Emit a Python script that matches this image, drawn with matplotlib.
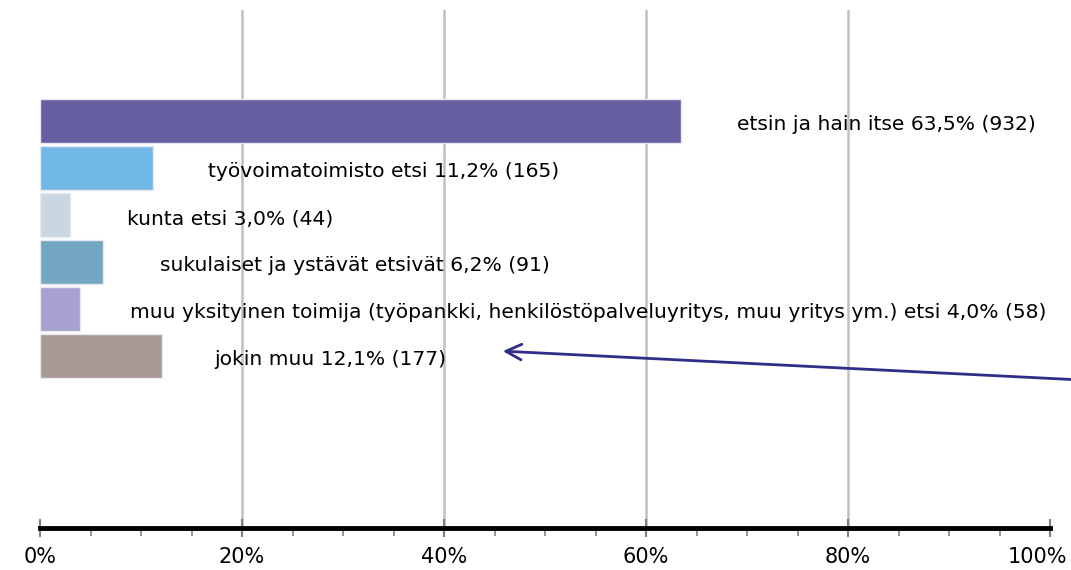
import matplotlib.pyplot as plt
from matplotlib.ticker import MultipleLocator

labels = ['etsin ja hain itse 63,5% (932)',
          'työvoimatoimisto etsi 11,2% (165)',
          'kunta etsi 3,0% (44)',
          'sukulaiset ja ystävät etsivät 6,2% (91)',
          'muu yksityinen toimija (työpankki, henkilöstöpalveluyritys, muu yritys ym.) etsi 4,0% (58)',
          'jokin muu 12,1% (177)']
values = [63.5, 11.2, 3.0, 6.2, 4.0, 12.1]
colors = ['#6660A3', '#72B8E6', '#CAD6E2', '#74A7C1', '#A6A1CE', '#A99994']
# where each label's left edge sits (in % of the axis)
label_x = [69.0, 16.6, 8.6, 11.9, 8.9, 17.3]
ticks = [0, 20, 40, 60, 80, 100]

plt.rcParams['font.family'] = ['DejaVu Sans']

fig = plt.figure(figsize=(10.71, 5.70), dpi=100)
ax = fig.add_axes([40/1071, 42/570, 1010/1071, 518/570])

pos = list(range(len(values)))
ax.barh(pos, values, height=0.94, color=colors, edgecolor='#e8e8f0', linewidth=1.0, zorder=3)
for p, lab, lx in zip(pos, labels, label_x):
    ax.text(lx, p + 0.08, lab, va='center', ha='left', fontsize=14.6, color='black', zorder=4)

ax.set_xlim(0, 100)
ax.set_ylim(8.66, -2.36)
ax.set_yticks([])
ax.set_xticks(ticks)
ax.xaxis.set_minor_locator(MultipleLocator(5))
ax.set_xticklabels([])
for g in ticks[1:-1]:
    ax.axvline(g, color='#c0c0c0', linewidth=1.8, zorder=0)

# tick labels, last one nudged so it stays inside the picture
for v in ticks:
    dx = -9 if v == 100 else 0
    ax.annotate('%d%%' % v, xy=(v, 0), xycoords=ax.get_xaxis_transform(),
                xytext=(dx, -14), textcoords='offset points',
                ha='center', va='top', fontsize=15)

for s in ['top', 'right', 'left']:
    ax.spines[s].set_visible(False)
ax.spines['bottom'].set_linewidth(3.5)
ax.spines['bottom'].set_color('black')
ax.spines['bottom'].set_zorder(5)
ax.tick_params(axis='x', which='major', direction='inout', length=13, width=1.5, color='#808080')
ax.tick_params(axis='x', which='minor', direction='out', length=6, width=1.2, color='#808080')

ax.annotate('', xy=(500/1071, 1-351/570), xytext=(1.01, 1-380/570),
            xycoords='figure fraction', textcoords='figure fraction',
            arrowprops=dict(arrowstyle='->', color='#2E2E88', lw=2, mutation_scale=28))

fig.savefig('out.png', dpi=100)
